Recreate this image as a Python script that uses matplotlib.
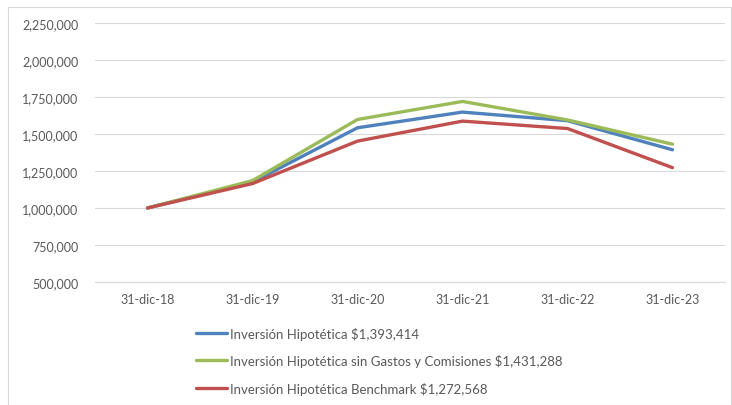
import matplotlib.pyplot as plt
from matplotlib.patches import Rectangle
from matplotlib.ticker import FuncFormatter

plt.rcParams['font.family'] = ['Lato', 'DejaVu Sans']

fechas = ['31-dic-18', '31-dic-19', '31-dic-20', '31-dic-21', '31-dic-22', '31-dic-23']
inversion = [1000000, 1175000, 1542000, 1648000, 1590000, 1393414]
sin_gastos = [1000000, 1185000, 1598000, 1720000, 1595000, 1431288]
benchmark = [1000000, 1165000, 1452000, 1587000, 1537000, 1272568]

etiquetas = ['Inversión Hipotética $1,393,414',
             'Inversión Hipotética sin Gastos y Comisiones $1,431,288',
             'Inversión Hipotética Benchmark $1,272,568']
colores = ['#4F81BD', '#9BBB59', '#C0504D']

fig = plt.figure(figsize=(7.32, 4.06), dpi=100)
# marco gris alrededor del grafico
fig.patches.append(Rectangle((8 / 732, 0), 723 / 732, 398 / 406, transform=fig.transFigure,
                             fill=False, edgecolor='#D9D9D9', linewidth=0.8))

ax = fig.add_axes([95 / 732, 1 - 283 / 406, 630 / 732, 259 / 406])
x = list(range(len(fechas)))
for serie, color, etiqueta in zip([inversion, sin_gastos, benchmark], colores, etiquetas):
    ax.plot(x, serie, color=color, linewidth=2.4, label=etiqueta, solid_capstyle='round')

ax.set_xlim(-0.5, len(fechas) - 0.5)
ax.set_ylim(500000, 2250000)
ax.set_yticks(range(500000, 2250001, 250000))
ax.yaxis.set_major_formatter(FuncFormatter(lambda v, p: f'{int(v):,}'))
ax.set_xticks(x)
ax.set_xticklabels(fechas)
ax.grid(axis='y', color='#D9D9D9', linewidth=0.8)
ax.set_axisbelow(True)
for s in ['top', 'right', 'left']:
    ax.spines[s].set_visible(False)
ax.spines['bottom'].set_color('#D9D9D9')
ax.tick_params(axis='both', length=0, labelsize=9, colors='#595959', pad=8)
ax.tick_params(axis='y', pad=12)

leg = ax.legend(loc='upper left', bbox_to_anchor=(189 / 732, 1 - 321 / 406),
                bbox_transform=fig.transFigure, frameon=False, fontsize=9.5,
                handlelength=2.4, handletextpad=0.2, labelspacing=1.1, borderpad=0)
for t in leg.get_texts():
    t.set_color('#595959')

fig.savefig('out.png', dpi=100)
